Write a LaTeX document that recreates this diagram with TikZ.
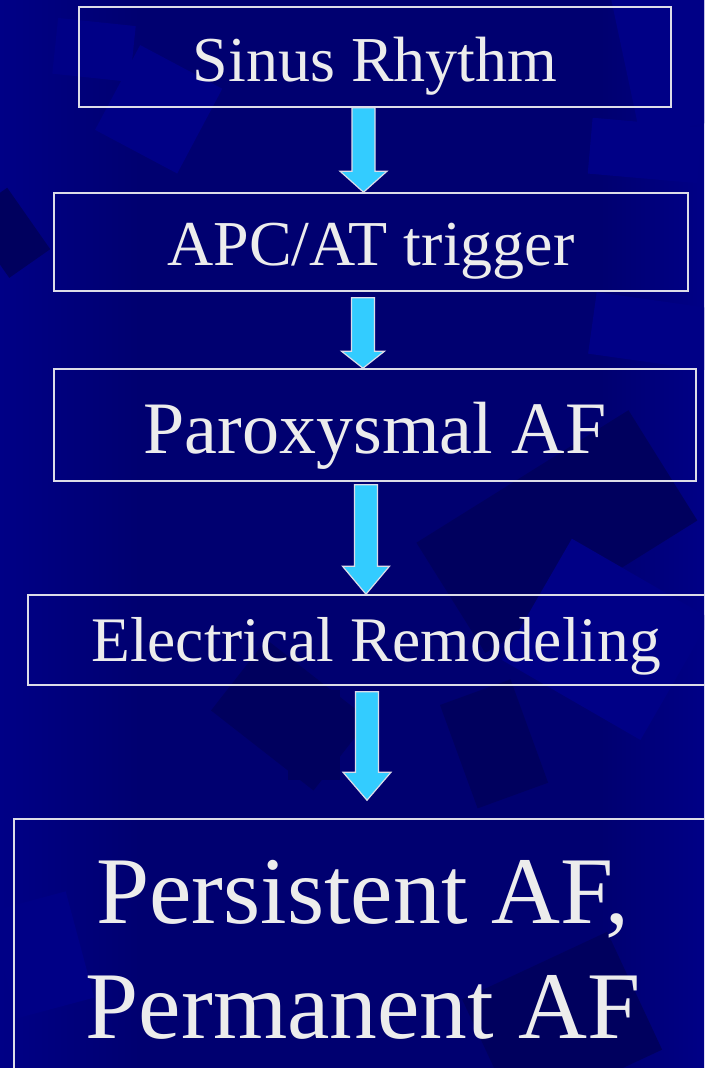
\documentclass[tikz,border=0pt]{standalone}
\usepackage{fontspec}
\setmainfont{Liberation Serif}
\usetikzlibrary{calc}

\definecolor{slidebg}{RGB}{0,0,112}
\definecolor{patchdark}{RGB}{0,0,94}
\definecolor{patchlight}{RGB}{0,0,134}
\definecolor{framegray}{RGB}{220,220,232}
\definecolor{arrowcyan}{RGB}{51,204,255}
\definecolor{textgray}{RGB}{236,236,236}

% block arrow between two boxes: from, to, x, top gap, head length, head half width, tip gap
\newcommand\flowarrow[7]{%
  \path[flow] let \p1=(#1.south), \p2=(#2.north) in
    (#3pt-11.5pt,\y1-#4pt) -- (#3pt+11.5pt,\y1-#4pt)
    -- (#3pt+11.5pt,\y2+#7pt+#5pt) -- (#3pt+#6pt,\y2+#7pt+#5pt)
    -- (#3pt,\y2+#7pt) -- (#3pt-#6pt,\y2+#7pt+#5pt)
    -- (#3pt-11.5pt,\y2+#7pt+#5pt) -- cycle;}

\begin{document}
\begin{tikzpicture}[x=1pt, y=-1pt,
  box/.style={draw=framegray, line width=1.6pt, inner sep=0pt,
              text=textgray, text depth=0pt},
  flow/.style={fill=arrowcyan, draw=framegray, line width=1.2pt}
]
\useasboundingbox (0,0) rectangle (704,1068);
\clip (0,0) rectangle (704,1068);

% slide background
\fill[slidebg] (0,0) rectangle (704,1068);
\shade[left color=patchlight, right color=slidebg] (0,0) rectangle (140,1068);
\shade[left color=slidebg, right color=patchlight] (600,0) rectangle (704,1068);
\fill[patchlight, rotate around={-6:(95,50)}] (55,22) rectangle (133,78);
\fill[patchlight, rotate around={-28:(160,110)}] (112,62) rectangle (205,158);
\fill[patchdark, rotate around={35:(15,225)}] (-20,190) rectangle (30,265);
\fill[patchlight, rotate around={12:(665,60)}] (625,-20) rectangle (730,130);
\fill[patchlight, rotate around={-5:(640,150)}] (590,122) rectangle (700,178);
\fill[patchlight, rotate around={-8:(650,330)}] (592,300) rectangle (720,362);
\fill[patchdark, rotate around={32:(550,530)}] (430,470) rectangle (680,600);
\fill[patchlight, rotate around={-30:(600,630)}] (530,565) rectangle (690,705);
\fill[patchdark, rotate around={-38:(290,715)}] (225,670) rectangle (355,760);
\fill[patchdark] (288,690) rectangle (340,780);
\fill[patchdark, rotate around={20:(490,740)}] (455,690) rectangle (530,800);
\fill[patchlight, rotate around={15:(40,950)}] (0,900) rectangle (80,1010);
\fill[patchdark, rotate around={25:(560,1020)}] (480,960) rectangle (640,1090);

% boxes
\node[box, minimum width=592pt, minimum height=100pt, text height=48pt,
      font=\fontsize{64}{77}\selectfont] (sinus) at (375,57) {Sinus Rhythm};
\node[box, minimum width=634pt, minimum height=98pt, text height=46pt,
      font=\fontsize{64}{77}\selectfont] (apc) at (371,242) {APC/AT trigger};
\node[box, minimum width=642pt, minimum height=112pt, text height=56pt,
      font=\fontsize{74}{89}\selectfont] (parox) at (375,425) {Paroxysmal AF};
\node[box, minimum width=696pt, minimum height=90pt, text height=42pt,
      font=\fontsize{63.5}{76}\selectfont] (remodel) at (376,640) {Electrical Remodeling};
\node[box, minimum width=698pt, minimum height=281pt, align=center,
      text height=157pt,
      font=\fontsize{95.5}{115}\selectfont] (persist) at (363,959.5)
      {Persistent AF,\\Permanent AF};

% arrows
\flowarrow{sinus}{apc}{363.5}{0}{21}{23.5}{0}
\flowarrow{apc}{parox}{363}{6}{17}{21.5}{0}
\flowarrow{parox}{remodel}{366}{3}{28}{23.5}{0}
\flowarrow{remodel}{persist}{367}{6}{28}{24}{18}
\end{tikzpicture}
\end{document}
